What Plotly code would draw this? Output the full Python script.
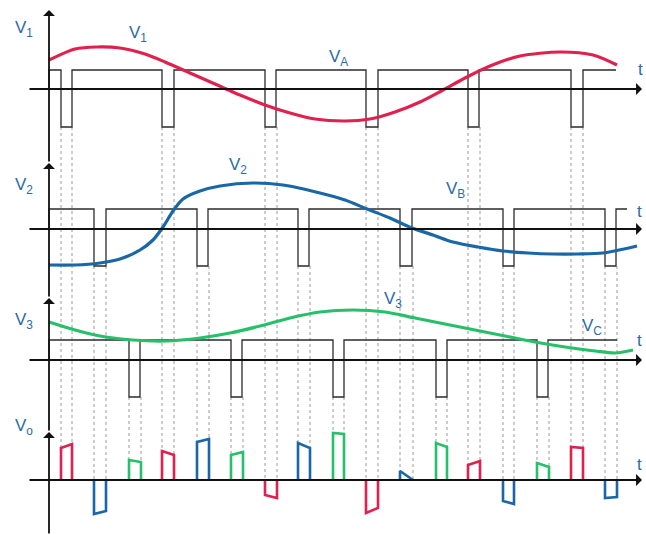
import plotly.graph_objects as go

# ---------------- data (time in px-like units, voltages relative to each baseline, up = positive)
W, H = 646, 535
T0 = 49                      # time origin (vertical axis)
BASE = [89, 229, 360, 480]   # baselines of the four traces (screen rows)
SQ_HIGH = [19, 20, 20]       # square-wave high level
SQ_LOW = [-38, -37, -37]     # notch level
SQ_END = [616, 627, 617]

NOTCH_A_START = [61, 162, 265, 366, 468, 571]
NOTCH_A_END = [72, 174, 276, 378, 479, 583]
NOTCH_B_START = [94, 197, 298, 400, 503, 605]
NOTCH_B_END = [106, 208, 309, 412, 514, 616]
NOTCH_C_START = [129, 231, 333, 436, 537]
NOTCH_C_END = [140, 242, 344, 447, 548]

V1_T = [49, 75, 97, 120, 145, 165, 190, 215, 240, 265, 290, 315, 345, 370, 395, 420, 443, 465, 490, 520, 560, 593, 617]
V1_V = [29, 40, 42, 41, 35, 27, 16, 5, -6, -16, -24, -30, -32, -30, -23, -13, -1, 11, 23, 33, 37, 34, 24]

V2_T = [49, 75, 100, 120, 140, 153, 163, 173, 183, 200, 220, 253, 283, 320, 345, 367, 390, 412, 433, 453, 478,
        503, 528, 553, 578, 603, 637]
V2_V = [-36, -36, -34, -30, -21, -11, 2, 18, 30, 38, 43, 46, 44, 36, 29, 20, 11, 1, -6, -13, -18, -22, -24, -25,
        -25, -24, -17]

V3_T = [49, 75, 100, 133, 166, 200, 230, 260, 290, 320, 353, 385, 415, 445, 475, 505, 535, 565, 595, 615, 633]
V3_V = [38, 30, 24, 20, 19, 22, 27, 34, 42, 48, 50, 48, 42, 36, 30, 24, 18, 13, 9, 7, 10]

# output pulses: start, end, level at start, level at end, phase (0=A,1=B,2=C)
VO_START = [61, 94, 129, 162, 197, 231, 265, 298, 333, 366, 400, 436, 468, 503, 537, 571, 605]
VO_END = [72, 106, 141, 174, 209, 243, 277, 310, 344, 378, 413, 447, 480, 514, 549, 583, 617]
VO_LEFT = [32, -34, 20, 29, 38, 25, -15, 37, 47, -33, 9, 37, 15, -21, 17, 33, -18]
VO_RIGHT = [36, -31, 18, 25, 41, 28, -18, 32, 46, -28, 0, 33, 19, -24, 13, 32, -17]
VO_PHASE = [0, 1, 2, 0, 1, 2, 0, 1, 2, 0, 1, 2, 0, 1, 2, 0, 1]

COLORS = ["#e0214f", "#1a67a8", "#27c06a"]
LABEL_COLOR = "#2c6aa6"

fig = go.Figure()


def yv(panel, v):
    return BASE[panel] - v


# dotted guide lines from each notch down to Vo
notches = [(NOTCH_A_START, NOTCH_A_END), (NOTCH_B_START, NOTCH_B_END), (NOTCH_C_START, NOTCH_C_END)]
gx, gy = [], []
for k in range(len(VO_START)):
    ph = VO_PHASE[k]
    top = yv(ph, SQ_LOW[ph])
    for t, lv in ((VO_START[k], VO_LEFT[k]), (VO_END[k], VO_RIGHT[k])):
        end = yv(3, max(lv, 0))
        gx += [t, t, None]
        gy += [top, end, None]
fig.add_trace(go.Scatter(x=gx, y=gy, mode="lines", line=dict(color="#9a9a9a", width=1, dash="dot"),
                         hoverinfo="skip", showlegend=False))

# square waves
for p, (st, en) in enumerate(notches):
    xs = [T0, T0]
    ys = [yv(p, 0), yv(p, SQ_HIGH[p])]
    for a, b in zip(st, en):
        xs += [a, a, b, b]
        ys += [yv(p, SQ_HIGH[p]), yv(p, SQ_LOW[p]), yv(p, SQ_LOW[p]), yv(p, SQ_HIGH[p])]
    xs.append(SQ_END[p])
    ys.append(yv(p, SQ_HIGH[p]))
    fig.add_trace(go.Scatter(x=xs, y=ys, mode="lines", line=dict(color="#2b2b2b", width=1.3),
                             hoverinfo="skip", showlegend=False))

# sinusoid-like phase voltages
for p, (tt, vv) in enumerate([(V1_T, V1_V), (V2_T, V2_V), (V3_T, V3_V)]):
    fig.add_trace(go.Scatter(x=tt, y=[yv(p, v) for v in vv], mode="lines",
                             line=dict(color=COLORS[p], width=3.2, shape="spline", smoothing=0.8),
                             hoverinfo="skip", showlegend=False))

# output pulses
for k in range(len(VO_START)):
    a, b = VO_START[k], VO_END[k]
    fig.add_trace(go.Scatter(x=[a, a, b, b], y=[yv(3, 0), yv(3, VO_LEFT[k]), yv(3, VO_RIGHT[k]), yv(3, 0)],
                             mode="lines", line=dict(color=COLORS[VO_PHASE[k]], width=2.6),
                             hoverinfo="skip", showlegend=False))

# axes with arrows (annotations)
anns = []
for b in BASE:
    anns.append(dict(x=642, y=b, ax=28, ay=b, xref="x", yref="y", axref="x", ayref="y",
                     text="", showarrow=True, arrowhead=1, arrowsize=1.1, arrowwidth=1.8, arrowcolor="#111"))
v_tips = [H, 432, 298, 163, 10]
for i in range(1, len(v_tips)):
    anns.append(dict(x=T0, y=v_tips[i], ax=T0, ay=v_tips[i - 1], xref="x", yref="y", axref="x", ayref="y",
                     text="", showarrow=True, arrowhead=1, arrowsize=1.1, arrowwidth=1.8, arrowcolor="#111"))

LABELS = [
    ("V<sub>1</sub>", 24, 29), ("V<sub>1</sub>", 138, 34), ("V<sub>A</sub>", 338, 58),
    ("V<sub>2</sub>", 24, 186), ("V<sub>2</sub>", 238, 166), ("V<sub>B</sub>", 455, 190),
    ("V<sub>3</sub>", 24, 321), ("V<sub>3</sub>", 393, 300), ("V<sub>C</sub>", 592, 327),
    ("V<sub>o</sub>", 24, 427),
    ("t", 640, 69), ("t", 639, 211), ("t", 639, 340), ("t", 639, 464),
]
for txt, x, y in LABELS:
    anns.append(dict(x=x, y=y, xref="x", yref="y", text=txt, showarrow=False,
                     font=dict(family="Liberation Sans, Arial", size=17, color=LABEL_COLOR)))

fig.update_layout(
    width=W, height=H, margin=dict(l=0, r=0, t=0, b=0),
    paper_bgcolor="white", plot_bgcolor="white",
    xaxis=dict(range=[0, W], visible=False, fixedrange=True),
    yaxis=dict(range=[H, 0], visible=False, fixedrange=True),
    annotations=anns, showlegend=False,
)

fig.write_html("out.html", config={"displayModeBar": False},
               post_script="document.body.style.margin='0';")
